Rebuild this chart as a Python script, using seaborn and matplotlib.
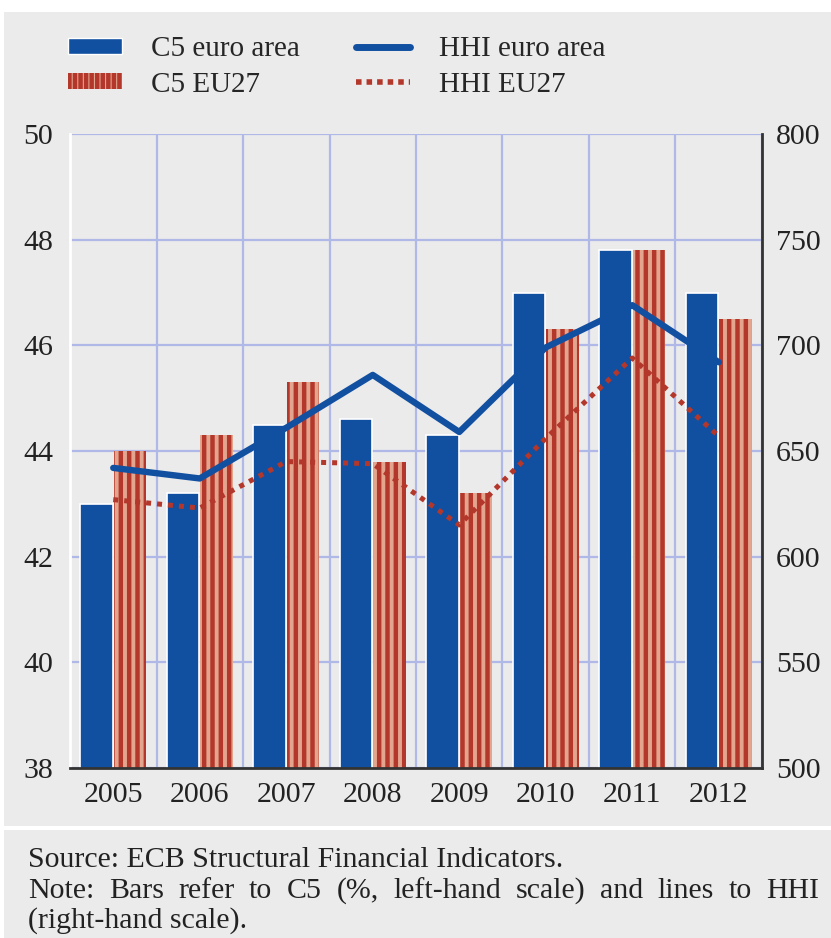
#%% Data & packages

import numpy as np
import pandas as pd
import seaborn as sns
import matplotlib.pyplot as plt
from matplotlib.patches import Patch, Rectangle
from matplotlib.lines import Line2D

years = ["2005", "2006", "2007", "2008", "2009", "2010", "2011", "2012"]
c5_euro_area = [43.0, 43.2, 44.5, 44.6, 44.3, 47.0, 47.8, 47.0]
c5_eu27 = [44.0, 44.3, 45.3, 43.8, 43.2, 46.3, 47.8, 46.5]
hhi_euro_area = [642, 637, 661, 686, 659, 699, 719, 692]
hhi_eu27 = [627, 623, 645, 644, 615, 656, 694, 657]

left_ticks = list(range(38, 51, 2))
right_ticks = list(range(500, 801, 50))

blue = "#114fa0"
salmon = "#e4a58f"
darkred = "#b3372a"
bg = "#ebebeb"
gridc = "#b0b8e8"
txt = "#222222"

sns.set_theme(style="white")
plt.rcParams["font.family"] = ["Liberation Serif", "DejaVu Serif"]
plt.rcParams["hatch.linewidth"] = 3.2

W, H = 831, 938
fig = plt.figure(figsize=(W / 100, H / 100), dpi=100, facecolor="white")

# gray panels (chart + note), separated by a thin white line
fig.patches.append(Rectangle((4 / W, (H - 826) / H), 1, 814 / H, transform=fig.transFigure,
                             facecolor=bg, edgecolor="none", zorder=-10))
fig.patches.append(Rectangle((4 / W, 0), 1, (H - 830) / H, transform=fig.transFigure,
                             facecolor=bg, edgecolor="none", zorder=-10))

ax = fig.add_axes([70 / W, (H - 768) / H, 692 / W, 634 / H])
ax.set_facecolor(bg)

#%% Bars (C5, left scale)

df_bars = pd.DataFrame({
    "year": years * 2,
    "c5": c5_euro_area + c5_eu27,
    "series": ["C5 euro area"] * len(years) + ["C5 EU27"] * len(years),
})
sns.barplot(data=df_bars, x="year", y="c5", hue="series", palette=[blue, salmon],
            saturation=1, width=0.78, gap=0.03, legend=False, ax=ax,
            edgecolor="white", linewidth=1.2, zorder=2)

for bar in ax.containers[1]:
    bar.set_hatch("||")
    bar.set_edgecolor(darkred)
    bar.set_linewidth(0)

ax.set_ylim(38, 50)
ax.set_yticks(left_ticks)
ax.set_xlim(-0.5, 7.5)
ax.set_xlabel("")
ax.set_ylabel("")

# grid: horizontal at left ticks, vertical at category boundaries
ax.set_xticks(np.arange(-0.5, 8, 1), minor=True)
ax.yaxis.grid(True, color=gridc, lw=1.6)
ax.xaxis.grid(True, which="minor", color=gridc, lw=1.6)
ax.set_axisbelow(True)

#%% Lines (HHI, right scale)

ax2 = ax.twinx()
sns.pointplot(x=years, y=hhi_euro_area, color=blue, errorbar=None, ax=ax2,
              marker="", linestyle="-", linewidth=4.6)
sns.pointplot(x=years, y=hhi_eu27, color=darkred, errorbar=None, ax=ax2,
              marker="", linestyle=(0, (1, 1.2)), linewidth=3.6)
ax2.set_ylim(500, 800)
ax2.set_yticks(right_ticks)
ax2.set_ylabel("")
ax.set_xlim(-0.5, 7.5)

ax.set_xticks(range(len(years)))
ax.set_xticklabels(years)

#%% Axes styling

for s in ["top", "right"]:
    ax.spines[s].set_visible(False)
ax.spines["left"].set_color("white")
ax.spines["left"].set_linewidth(2)
ax.spines["bottom"].set_color("#333333")
ax.spines["bottom"].set_linewidth(2)
for s in ["top", "left", "bottom"]:
    ax2.spines[s].set_visible(False)
ax2.spines["right"].set_color("#333333")
ax2.spines["right"].set_linewidth(2)

ax.tick_params(axis="y", length=0, pad=12, labelsize=21.5, labelcolor=txt)
ax.tick_params(axis="x", which="major", length=0, pad=10, labelsize=21.5, labelcolor=txt)
ax.tick_params(axis="x", which="minor", length=8, width=1.8, direction="out", color="#333333")
ax2.tick_params(axis="y", length=0, pad=10, labelsize=21.5, labelcolor=txt)

#%% Legend & note

handles = [
    Patch(facecolor=blue, edgecolor="white", linewidth=1),
    Patch(facecolor=salmon, edgecolor=darkred, linewidth=0, hatch="|||"),
    Line2D([], [], color=blue, lw=5),
    Line2D([], [], color=darkred, lw=4, linestyle=(0, (1, 0.9))),
]
labels = ["C5 euro area", "C5 EU27", "HHI euro area", "HHI EU27"]
fig.legend(handles, labels, ncol=2, loc="upper left", bbox_to_anchor=(42 / W, 1 - 10 / H),
           frameon=False, fontsize=21, handlelength=1.85, handleheight=0.45,
           handletextpad=1.0, columnspacing=1.92, labelspacing=0.32)

note_size = 21.5
x0, x1 = 28 / W, 819 / W
fig.text(x0, 1 - 867 / H, "Source: ECB Structural Financial Indicators.",
         fontsize=note_size, color=txt, va="baseline", ha="left")
fig.text(x0, 1 - 928 / H, "(right-hand scale).",
         fontsize=note_size, color=txt, va="baseline", ha="left")

# justified middle line: spread words across the note width
words = "Note: Bars refer to C5 (%, left-hand scale) and lines to HHI".split()
word_texts = [fig.text(0, 1 - 898 / H, w, fontsize=note_size, color=txt,
                       va="baseline", ha="left") for w in words]
fig.canvas.draw()
renderer = fig.canvas.get_renderer()
widths = [t.get_window_extent(renderer).width / W for t in word_texts]
space = (x1 - x0 - sum(widths)) / (len(words) - 1)
xpos = x0
for t, w in zip(word_texts, widths):
    t.set_x(xpos)
    xpos += w + space

fig.savefig("out.png", dpi=100, facecolor=fig.get_facecolor())
